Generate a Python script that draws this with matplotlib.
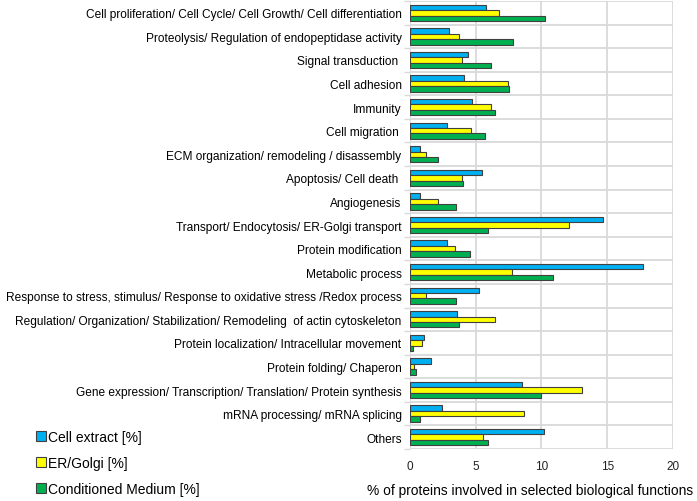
import matplotlib.pyplot as plt
import numpy as np

plt.rcParams['font.family'] = ['Liberation Sans', 'DejaVu Sans']

# categories, top to bottom
categories = [
    "Cell proliferation/ Cell Cycle/ Cell Growth/ Cell differentiation",
    "Proteolysis/ Regulation of endopeptidase activity",
    "Signal transduction ",
    "Cell adhesion",
    "Immunity",
    "Cell migration ",
    "ECM organization/ remodeling / disassembly",
    "Apoptosis/ Cell death ",
    "Angiogenesis",
    "Transport/ Endocytosis/ ER-Golgi transport",
    "Protein modification",
    "Metabolic process",
    "Response to stress, stimulus/ Response to oxidative stress /Redox process",
    "Regulation/ Organization/ Stabilization/ Remodeling  of actin cytoskeleton",
    "Protein localization/ Intracellular movement",
    "Protein folding/ Chaperon",
    "Gene expression/ Transcription/ Translation/ Protein synthesis",
    "mRNA processing/ mRNA splicing",
    "Others",
]

cell_extract = [5.8, 3.0, 4.4, 4.1, 4.7, 2.8, 0.8, 5.5, 0.8, 14.7, 2.8, 17.7,
                5.25, 3.6, 1.07, 1.62, 8.55, 2.46, 10.23]
er_golgi = [6.8, 3.7, 4.0, 7.45, 6.2, 4.65, 1.2, 4.0, 2.15, 12.1, 3.4, 7.75,
            1.2, 6.5, 0.9, 0.3, 13.05, 8.7, 5.55]
cond_medium = [10.3, 7.85, 6.2, 7.55, 6.5, 5.7, 2.15, 4.05, 3.5, 5.95, 4.6, 10.85,
               3.5, 3.75, 0.25, 0.5, 10.0, 0.8, 5.95]

series_names = ["Cell extract [%]", "ER/Golgi [%]", "Conditioned Medium [%]"]
colors = ["#00b0f0", "#ffff00", "#00b050"]

fig = plt.figure(figsize=(6.97, 5.02), dpi=100)
ax = fig.add_axes([0.588, 0.1036, 0.3775, 0.8924])

y = np.arange(len(categories))
h = 0.23
for i, (vals, name, c) in enumerate(zip([cell_extract, er_golgi, cond_medium], series_names, colors)):
    ax.barh(y + (i - 1) * h, vals, height=h, color=c, edgecolor="#404040",
            linewidth=0.8, label=name, zorder=3)

ax.set_ylim(len(categories) - 0.5, -0.5)
ax.set_xlim(0, 20)
ax.set_xticks([0, 5, 10, 15, 20])
ax.set_yticks(y)
ax.set_yticklabels(categories, fontsize=8.6)
ax.tick_params(axis='y', length=0, pad=6)
ax.tick_params(axis='x', length=0, labelsize=8.5, pad=8, colors="#222222")
ax.set_yticks(np.arange(len(categories) + 1) - 0.5, minor=True)
ax.tick_params(axis='y', which='minor', length=4, color="#d9d9d9", width=1)
ax.grid(True, axis='x', color="#d9d9d9", linewidth=1.3, zorder=0)
ax.grid(True, axis='y', which='minor', color="#d9d9d9", linewidth=1.3, zorder=0)
for s in ax.spines.values():
    s.set_visible(False)

fig.legend(loc="lower left", bbox_to_anchor=(0.04, -0.006), frameon=False,
           fontsize=10, handlelength=0.7, handleheight=0.7, handletextpad=0.15,
           labelspacing=0.85, borderaxespad=0.2)

fig.text(0.76, 0.022, "% of proteins involved in selected biological functions",
         fontsize=9.9, ha="center", va="center")

fig.savefig("out.png", dpi=100)
